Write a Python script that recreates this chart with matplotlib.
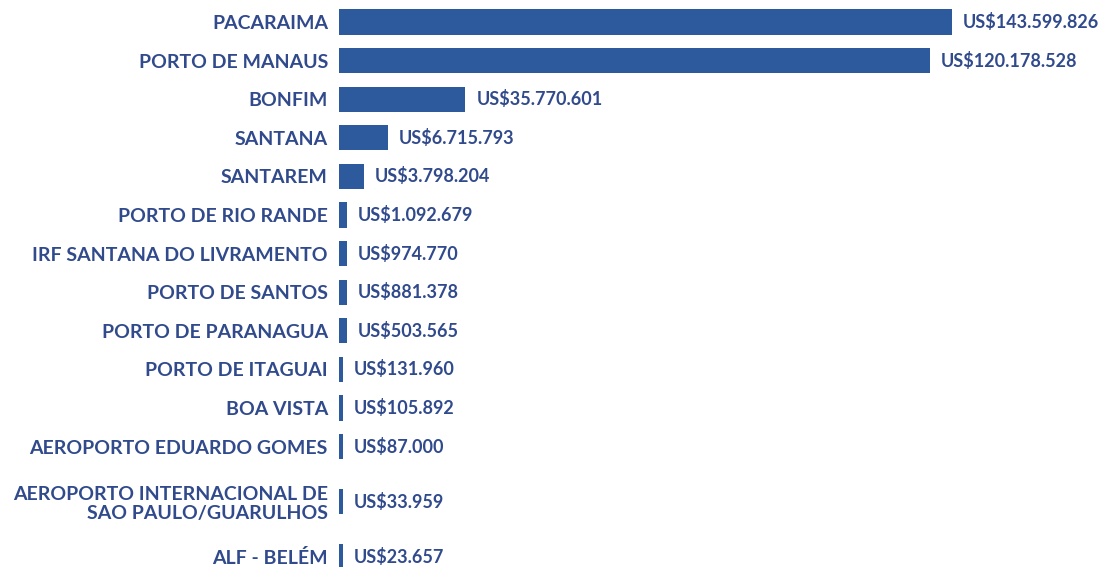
import matplotlib
matplotlib.use("Agg")
import matplotlib.pyplot as plt
import numpy as np

categories = [
    "PACARAIMA", "PORTO DE MANAUS", "BONFIM", "SANTANA", "SANTAREM",
    "PORTO DE RIO RANDE", "IRF SANTANA DO LIVRAMENTO", "PORTO DE SANTOS",
    "PORTO DE PARANAGUA", "PORTO DE ITAGUAI", "BOA VISTA",
    "AEROPORTO EDUARDO GOMES", "AEROPORTO INTERNACIONAL DE\nSAO PAULO/GUARULHOS",
    "ALF - BELÉM",
]
value_labels = [
    "US$143.599.826", "US$120.178.528", "US$35.770.601", "US$6.715.793",
    "US$3.798.204", "US$1.092.679", "US$974.770", "US$881.378", "US$503.565",
    "US$131.960", "US$105.892", "US$87.000", "US$33.959", "US$23.657",
]
# bar lengths as drawn in the reference (relative units, PACARAIMA = 100)
bar_lengths = [100, 96.4, 20.6, 8.0, 4.1, 1.3, 1.3, 1.3, 1.3, 0.65, 0.65, 0.65, 0.65, 0.65]

BAR_COLOR = "#2C5A9C"
TEXT_COLOR = "#304A8C"
FONT = "Lato"

W, H = 1099, 567
fig = plt.figure(figsize=(W / 100, H / 100), dpi=100)
left_px = 339
ax = fig.add_axes([left_px / W, 0, (W - left_px) / W, 1])

# positions: unit step, extra room around multi-line labels
nlines = [c.count("\n") + 1 for c in categories]
pos = [0.0]
for i in range(1, len(categories)):
    pos.append(pos[-1] + 1 + 0.43 * ((nlines[i - 1] - 1) + (nlines[i] - 1)))
pos = np.array(pos)

step_px = 38.6
ax.barh(pos, bar_lengths, height=0.65, color=BAR_COLOR, align="center")

ax.set_ylim(pos[-1] + (H - 557) / step_px, pos[0] - 22 / step_px)
max_len = max(bar_lengths)
ax.set_xlim(0, max_len * (W - left_px) / 613)

ax.set_yticks(pos)
ax.set_yticklabels(categories, fontsize=14, fontweight="bold", color=TEXT_COLOR,
                   family=FONT, linespacing=1.1)
ax.tick_params(axis="y", length=0, pad=8)
ax.set_xticks([])
for s in ax.spines.values():
    s.set_visible(False)

for p, L, lab in zip(pos, bar_lengths, value_labels):
    ax.annotate(lab, xy=(L, p), xytext=(11, 0), textcoords="offset pixels",
                ha="left", va="center", fontsize=13, fontweight="bold",
                color=TEXT_COLOR, family=FONT)

fig.savefig("out.png", dpi=100)
